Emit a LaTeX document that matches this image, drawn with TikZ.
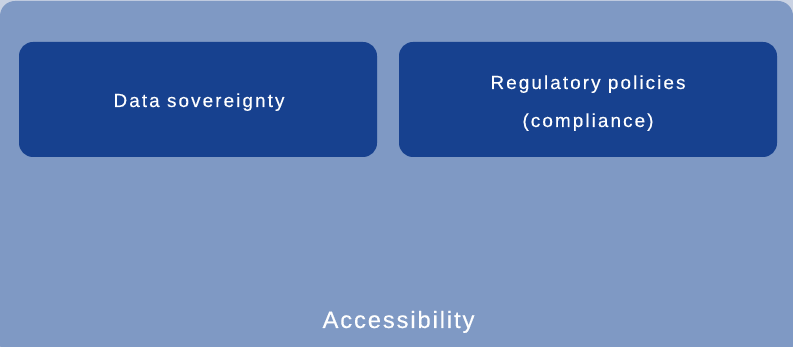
\documentclass[tikz,border=0pt]{standalone}
\usepackage{fontspec}
\setmainfont{Liberation Sans}
\newfontfamily\boxfont[LetterSpace=11,FakeBold=0.3]{Liberation Sans}
\newfontfamily\bigfont[LetterSpace=8,FakeBold=0.3]{Liberation Sans}
\definecolor{pagebg}{HTML}{C9D2E3}
\definecolor{panelbg}{HTML}{7F99C4}
\definecolor{boxbg}{HTML}{17418F}
\tikzset{
  panel/.style={fill=panelbg, draw=none, rounded corners=15pt, inner sep=0pt, outer sep=0pt},
  darkbox/.style={fill=boxbg, draw=none, rounded corners=14pt, inner sep=0pt, outer sep=0pt, minimum height=115pt},
  boxtext/.style={text=white, anchor=base, inner sep=0pt, font=\boxfont\fontsize{18.9}{22}\selectfont},
  bigtext/.style={text=white, anchor=base, inner sep=0pt, font=\bigfont\fontsize{23.7}{28}\selectfont}
}
\begin{document}
\begin{tikzpicture}[x=1pt,y=-1pt]
\useasboundingbox (0,0) rectangle (793,347);
\fill[pagebg] (0,0) rectangle (793,347);
\node[panel, minimum width=793pt, minimum height=358pt] (outer) at (396.5,180) {};
\node[darkbox, minimum width=358pt] (box1) at (198,99.5) {};
\node[darkbox, minimum width=378pt] (box2) at (588,99.5) {};
\node[boxtext] (t1) at (199,107) {Data sovereignty};
\node[boxtext] (t2a) at (588,89) {Regulatory policies};
\node[boxtext] (t2b) at (588,127) {(compliance)};
\node[bigtext] (t3) at (398.5,328) {Accessibility};
\end{tikzpicture}
\end{document}
